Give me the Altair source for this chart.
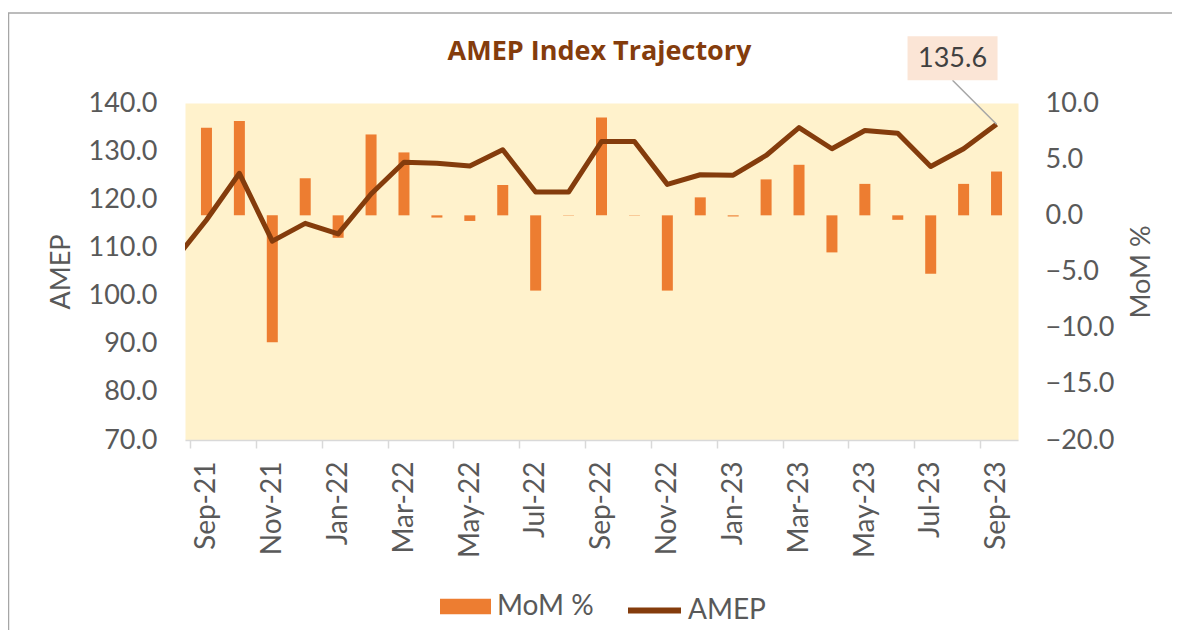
import altair as alt
import pandas as pd

# ---- data ----
months = ["Sep-21", "Oct-21", "Nov-21", "Dec-21", "Jan-22", "Feb-22", "Mar-22",
          "Apr-22", "May-22", "Jun-22", "Jul-22", "Aug-22", "Sep-22", "Oct-22",
          "Nov-22", "Dec-22", "Jan-23", "Feb-23", "Mar-23", "Apr-23", "May-23",
          "Jun-23", "Jul-23", "Aug-23", "Sep-23"]
amep = [115.7, 125.4, 111.3, 115.0, 112.8, 121.1, 127.7, 127.5, 126.9, 130.3,
        121.5, 121.5, 132.0, 132.0, 123.1, 125.1, 125.0, 129.1, 134.9, 130.5,
        134.3, 133.7, 126.8, 130.5, 135.6]
mom = [7.8, 8.4, -11.3, 3.3, -2.0, 7.2, 5.6, -0.2, -0.5, 2.7,
       -6.7, 0.03, 8.7, 0.03, -6.7, 1.6, -0.1, 3.2, 4.5, -3.3,
       2.8, -0.4, -5.2, 2.8, 3.9]
prior_month = "Aug-21"      # point before the visible range (line enters from the left edge)
prior_amep = 107.1

left_ticks = [70, 80, 90, 100, 110, 120, 130, 140]
right_ticks = [-20, -15, -10, -5, 0, 5, 10]
title_text = "AMEP Index Trajectory"

BAR_C = "#ED7D31"
LINE_C = "#843C0C"
TXT_C = "#595959"
W, H = 833, 337

bar_df = pd.DataFrame({"i": list(range(len(months))), "m": months, "mom": mom,
                       "s": "MoM %"})
line_df = pd.DataFrame({"i": [-1] + list(range(len(months))),
                        "m": [prior_month] + months,
                        "amep": [prior_amep] + amep, "s": "AMEP"})
ann_df = line_df[line_df["m"] == months[-1]]

label_list = "[" + ",".join(f"'{m}'" for m in months) + "]"
x_enc = alt.X(
    "i:Q",
    scale=alt.Scale(domain=[-0.5, len(months) - 0.5], nice=False, zero=False),
    axis=alt.Axis(
        values=[k - 0.5 for k in range(0, len(months), 2)],
        labelExpr=f"{label_list}[round(datum.value + 0.5)]",
        labelOffset=W / len(months) / 2,
        labelAngle=-90, labelFont="Lato", labelFontSize=28, labelColor=TXT_C,
        labelPadding=13, labelOverlap=False, labelFlush=False, labelBound=False,
        domainColor="#D9D9D9", domainWidth=1.5, tickColor="#D9D9D9",
        tickWidth=1.5, tickSize=8, grid=False, title=None,
    ),
)

y_left = alt.Y(
    "amep:Q",
    scale=alt.Scale(domain=[70, 140], nice=False, zero=False),
    axis=alt.Axis(orient="left", values=left_ticks, format=".1f", title="AMEP",
                  labelFont="Lato", labelFontSize=27, labelColor=TXT_C,
                  labelPadding=28, titleFont="Lato", titleFontSize=27,
                  titleFontWeight="normal", titleColor=TXT_C, titlePadding=12,
                  domain=False, ticks=False, grid=False),
)
y_right = alt.Y(
    "mom:Q",
    scale=alt.Scale(domain=[-20, 10], nice=False),
    axis=alt.Axis(orient="right", values=right_ticks, format=".1f", title="MoM %",
                  labelFont="Lato", labelFontSize=27, labelColor=TXT_C,
                  labelPadding=27, titleFont="Lato", titleFontSize=27,
                  titleFontWeight="normal", titleColor=TXT_C, titlePadding=14,
                  titleAngle=270, titleBaseline="top",
                  domain=False, ticks=False, grid=False),
)

single = alt.Data(values=[{"t": title_text}])

border_left = alt.Chart(single).mark_rule(
    color="#A6A6A6", strokeWidth=1.5, clip=False
).encode(x=alt.value(-176.5), y=alt.value(-90), y2=alt.value(H + 400))
border_top = alt.Chart(single).mark_rule(
    color="#A6A6A6", strokeWidth=1.5, clip=False
).encode(x=alt.value(-177.2), x2=alt.value(W + 400), y=alt.value(-90))

title = alt.Chart(single).mark_text(
    font="Open Sans", fontSize=27, fontWeight="bold", color=LINE_C,
    align="center", baseline="alphabetic"
).encode(text="t:N", x=alt.value(W / 2 - 2), y=alt.value(-43))

bars = alt.Chart(bar_df).mark_bar(size=11).encode(
    x=x_enc, y=y_right,
    fill=alt.Fill("s:N", scale=alt.Scale(domain=["MoM %"], range=[BAR_C]),
                  legend=alt.Legend(title=None, orient="none", legendX=255,
                                    legendY=478, padding=0,
                                    symbolType="M-1,-0.3H1V0.3H-1Z",
                                    symbolSize=2601, symbolStrokeWidth=0,
                                    labelFont="Lato", labelFontSize=28,
                                    labelColor=TXT_C, labelOffset=6)),
)

line = alt.Chart(line_df).mark_line(clip=True, strokeWidth=5,
                                    strokeJoin="round").encode(
    x=x_enc, y=y_left,
    stroke=alt.Stroke("s:N", scale=alt.Scale(domain=["AMEP"], range=[LINE_C]),
                      legend=alt.Legend(title=None, orient="none", legendX=440,
                                        legendY=478, padding=0,
                                        symbolType="stroke", symbolSize=2809,
                                        symbolStrokeWidth=6, labelFont="Lato",
                                        labelFontSize=28, labelColor=TXT_C,
                                        labelOffset=4)),
)

leader = alt.Chart(ann_df).mark_rule(
    color="#A6A6A6", strokeWidth=1.5, x2Offset=-44, y2Offset=-44
).encode(x=x_enc, x2="i:Q", y=y_left, y2="amep:Q")

box = alt.Chart(ann_df).mark_point(
    shape="M-1,-0.489H1V0.489H-1Z", size=8100, filled=True, color="#FBE5D6",
    opacity=1, strokeWidth=0, xOffset=-44, yOffset=-66
).encode(x=x_enc, y=y_left)

label = alt.Chart(ann_df).mark_text(
    font="Lato", fontSize=27, color="#404040", align="center",
    baseline="middle", dx=-44, dy=-65
).encode(x=x_enc, y=y_left, text=alt.Text("amep:Q", format=".1f"))

left_layer = alt.layer(line, leader, box, label)

chart = alt.layer(border_left, border_top, title, bars, left_layer).resolve_scale(
    y="independent"
).properties(
    width=W, height=H,
    autosize=alt.AutoSizeParams(type="none"),
    padding={"left": 177, "top": 95, "right": 154, "bottom": 190},
).configure_view(fill="#FFF2CC", stroke="transparent")

chart.save("out.html", embed_options={"renderer": "svg", "actions": False})
